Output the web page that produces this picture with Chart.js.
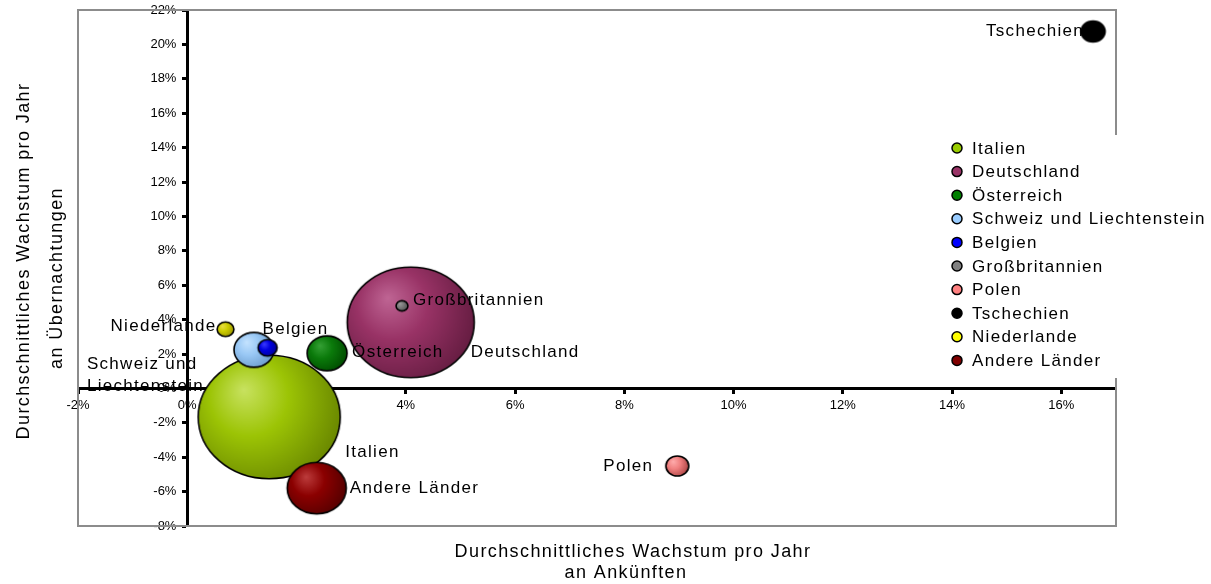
<!DOCTYPE html>
<html>
<head>
<meta charset="utf-8">
<script src="https://cdn.jsdelivr.net/npm/chart.js@4"></script>
<style>
    body { margin: 0; background: #fff; }
    #wrap { width: 1211px; height: 584px; position: relative; }
</style>
</head>
<body>
<div id="wrap"><canvas id="myChart"></canvas></div>
<script>
// data (values in %)
const countries = ['Italien', 'Deutschland', 'Österreich', 'Schweiz und Liechtenstein', 'Belgien',
    'Großbritannien', 'Polen', 'Tschechien', 'Niederlande', 'Andere Länder'];
const arrivalsGrowth = [1.50, 4.09, 2.56, 1.22, 1.47, 3.93, 8.97, 16.58, 0.70, 2.37];
const nightsGrowth = [-1.66, 3.84, 2.04, 2.24, 2.36, 4.80, -4.51, 20.75, 3.44, -5.80];
const bubbleSizes = [100, 80, 7.9, 7.9, 1.8, 0.7, 2.6, 2.9, 1.4, 17.3];
const xTickValues = [-2, 0, 2, 4, 6, 8, 10, 12, 14, 16];
const yTickValues = [-8, -6, -4, -2, 0, 2, 4, 6, 8, 10, 12, 14, 16, 18, 20, 22];

// styles
const legendColors = ['#99cc00', '#993366', '#008000', '#99ccff', '#0000ff',
    '#808080', '#ff8080', '#000000', '#ffff00', '#800000'];
const shading = [
    ['#c8e260', '#9cc405', '#6a8800'],
    ['#bf6594', '#993366', '#661d42'],
    ['#35a035', '#0b7a0b', '#004c00'],
    ['#c4e3ff', '#99c8f5', '#6b9bcc'],
    ['#3a3aff', '#0000e0', '#000096'],
    ['#9a9a9a', '#7a7a7a', '#505050'],
    ['#ffacac', '#f08080', '#ad4545'],
    ['#000000', '#000000', '#000000'],
    ['#e8de44', '#cccc00', '#9c9600'],
    ['#bc3c3c', '#8b0000', '#550000']
];
// label placement relative to bubble centre: [dx, dy, align]
const labelPlace = [
    [76, 35, 'left'], [60, 30, 'left'], [25, -1, 'left'], [-167, 14, 'left'], [-5, -18, 'left'],
    [11, -6, 'left'], [-24, 0, 'right'], [-9, 0, 'right'], [-9, -3, 'right'], [33, 0, 'left']
];
const fontFamily = "'Liberation Sans', Arial, sans-serif";
const maxBubbleWidth = 142;

function bubbleWidth(size) {
    return maxBubbleWidth * Math.sqrt(size / 100);
}

function makeBubble(stops, w) {
    const h = w * 0.87;
    const c = document.createElement('canvas');
    c.width = Math.ceil(w + 4);
    c.height = Math.ceil(h + 4);
    const g = c.getContext('2d');
    const cx = c.width / 2, cy = c.height / 2;
    const grad = g.createRadialGradient(cx - w * 0.18, cy - h * 0.22, 0, cx - w * 0.1, cy - h * 0.1, w * 0.62);
    grad.addColorStop(0, stops[0]);
    grad.addColorStop(0.45, stops[1]);
    grad.addColorStop(1, stops[2]);
    g.beginPath();
    g.ellipse(cx, cy, w / 2, h / 2, 0, 0, Math.PI * 2);
    g.fillStyle = grad;
    g.fill();
    g.lineWidth = 1.6;
    g.strokeStyle = '#000';
    g.stroke();
    return c;
}

const frame = {
    id: 'frame',
    beforeDatasetsDraw(chart) {
        const a = chart.chartArea;
        const ctx = chart.ctx;
        ctx.save();
        ctx.strokeStyle = '#8c8c8c';
        ctx.lineWidth = 2;
        ctx.strokeRect(a.left, a.top, a.right - a.left, a.bottom - a.top);
        ctx.restore();
    }
};

const pointLabels = {
    id: 'pointLabels',
    afterDatasetsDraw(chart) {
        const ctx = chart.ctx;
        ctx.save();
        ctx.font = '17px ' + fontFamily;
        ctx.letterSpacing = '1.3px';
        ctx.fillStyle = '#000';
        ctx.textBaseline = 'middle';
        chart.data.datasets.forEach((ds, i) => {
            const el = chart.getDatasetMeta(i).data[0];
            const [dx, dy, align] = labelPlace[i];
            ctx.textAlign = align;
            const lines = ds.label.replace(' und ', ' und\n').split('\n');
            lines.forEach((line, j) => {
                ctx.fillText(line, el.x + dx, el.y + dy + j * 22);
            });
        });
        ctx.restore();
    }
};

const extras = {
    id: 'extras',
    afterDraw(chart) {
        const ctx = chart.ctx;
        ctx.save();
        // legend
        ctx.fillStyle = '#fff';
        ctx.fillRect(942, 135, 269, 243);
        ctx.font = '17px ' + fontFamily;
        ctx.letterSpacing = '1.3px';
        ctx.textBaseline = 'middle';
        ctx.textAlign = 'left';
        chart.data.datasets.forEach((ds, i) => {
            const y = 148 + i * 23.6;
            ctx.beginPath();
            ctx.arc(957, y, 5, 0, Math.PI * 2);
            ctx.fillStyle = legendColors[i];
            ctx.fill();
            ctx.lineWidth = 1.5;
            ctx.strokeStyle = '#000';
            ctx.stroke();
            ctx.fillStyle = '#000';
            ctx.fillText(ds.label, 972, y + 1);
        });
        // axis titles
        ctx.font = '18px ' + fontFamily;
        ctx.letterSpacing = '1.4px';
        ctx.textAlign = 'center';
        ctx.fillText('Durchschnittliches Wachstum pro Jahr', 633, 552);
        ctx.fillText('an Ankünften', 626, 573);
        ctx.save();
        ctx.translate(24, 261);
        ctx.rotate(-Math.PI / 2);
        ctx.fillText('Durchschnittliches Wachstum pro Jahr', 0, 0);
        ctx.restore();
        ctx.save();
        ctx.translate(57, 278);
        ctx.rotate(-Math.PI / 2);
        ctx.fillText('an Übernachtungen', 0, 0);
        ctx.restore();
        ctx.restore();
    }
};

function drawChart() {
    const ctx = document.getElementById('myChart').getContext('2d');
    Chart.defaults.font.family = fontFamily;

    const datasets = countries.map((name, i) => {
        const w = bubbleWidth(bubbleSizes[i]);
        return {
            label: name,
            data: [{ x: arrivalsGrowth[i], y: nightsGrowth[i], r: w / 2 }],
            pointStyle: makeBubble(shading[i], w),
            backgroundColor: legendColors[i],
            borderColor: '#000',
            order: countries.length - i
        };
    });

    const axisStyle = (ticks, suffix, pad) => ({
        type: 'linear',
        afterBuildTicks: axis => { axis.ticks = ticks.map(v => ({ value: v })); },
        ticks: {
            callback: v => v + suffix,
            color: '#000',
            font: { size: 13 },
            padding: pad,
            autoSkip: false,
            maxRotation: 0
        },
        grid: {
            drawOnChartArea: false,
            drawTicks: true,
            tickLength: 4,
            tickWidth: 3,
            tickColor: '#000'
        },
        border: { color: '#000', width: 3 }
    });

    new Chart(ctx, {
        type: 'bubble',
        data: { datasets },
        options: {
            responsive: true,
            maintainAspectRatio: false,
            animation: false,
            layout: { autoPadding: false, padding: { left: 78, top: 10, right: 95, bottom: 58 } },
            plugins: { legend: { display: false }, tooltip: { enabled: false } },
            scales: {
                x: Object.assign(axisStyle(xTickValues, '%', 5), { position: { y: 0 }, min: -2, max: 17 }),
                // trailing spaces keep the labels clear of the centred axis
                y: Object.assign(axisStyle(yTickValues, '%   ', 0), { position: { x: 0 }, min: -8, max: 22 })
            }
        },
        plugins: [frame, pointLabels, extras]
    });
}

drawChart();
</script>
</body>
</html>
